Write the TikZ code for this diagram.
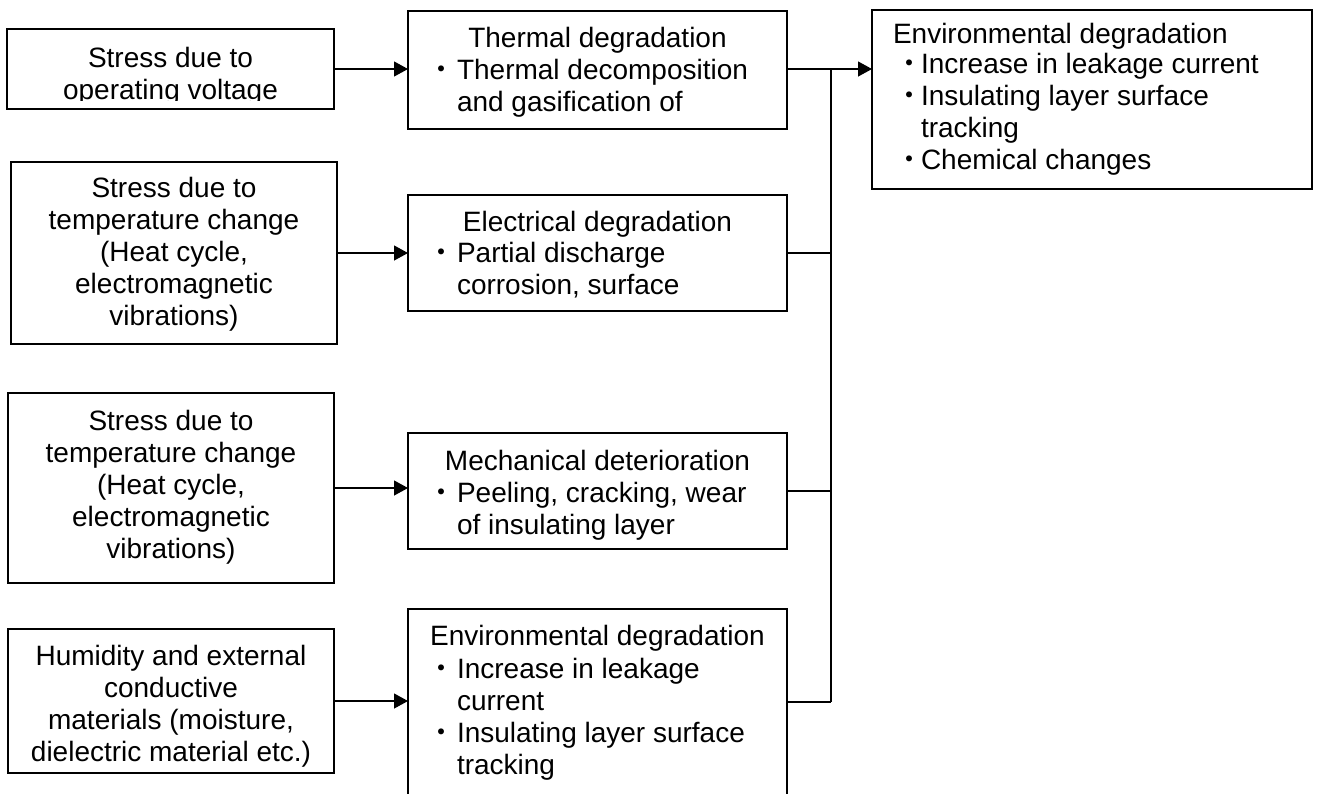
\documentclass[tikz,border=0pt]{standalone}
\usepackage{fontspec}
\setmainfont{Liberation Sans}
\newfontfamily\cjkfont{Noto Sans CJK JP}
\usetikzlibrary{arrows.meta,calc}
% bullet hung to the left of a line, its dot centred #1/2 before the text
\newcommand\hangdot[1]{\llap{\smash{\makebox[#1][c]{\cjkfont ・}}}}
\tikzset{
  box/.style={draw, line width=1.2pt, rectangle, inner sep=0pt, outer sep=0pt, anchor=north west},
  lbl/.style={inner sep=0pt, outer sep=0pt, font=\fontsize{28}{32}\selectfont},
  ctr/.style={lbl, align=center, anchor=north},
  lft/.style={lbl, align=left, anchor=north west},
  arr/.style={line width=1.2pt, -{Triangle[length=14pt,width=15pt]}},
  link/.style={line width=1.2pt},
}
\begin{document}
\begin{tikzpicture}[x=1pt,y=-1pt]
\useasboundingbox (0,0) rectangle (1317,793);

% causes (left column)
\node[box, minimum width=327pt, minimum height=80pt]  (a1) at (7,29) {};
\node[box, minimum width=326pt, minimum height=182pt] (a2) at (11,162) {};
\node[box, minimum width=326pt, minimum height=190pt] (a3) at (8,393) {};
\node[box, minimum width=326pt, minimum height=144pt] (a4) at (8,629) {};

\begin{scope}
  \clip (7,29) rectangle (334,100);
  \node[ctr] (ta1) at (170.5,44.6) {\strut Stress due to\\operating voltage};
\end{scope}
\node[ctr] (ta2) at (174,174.6) {\strut Stress due to\\temperature change\\(Heat cycle,\\electromagnetic\\vibrations)};
\node[ctr] (ta3) at (171,407.6) {\strut Stress due to\\temperature change\\(Heat cycle,\\electromagnetic\\vibrations)};
\node[ctr] (ta4) at (171,642.6) {\strut Humidity and external\\conductive\\materials (moisture,\\dielectric material etc.)};

% degradation modes (middle column)
\node[box, minimum width=379pt, minimum height=118pt] (b1) at (408,11) {};
\node[box, minimum width=379pt, minimum height=116pt] (b2) at (408,195) {};
\node[box, minimum width=379pt, minimum height=116pt] (b3) at (408,433) {};
\node[box, minimum width=379pt, minimum height=186pt] (b4) at (408,609) {};

\node[ctr] (hb1) at (597.5,24.6) {\strut Thermal degradation};
\node[lft] (tb1) at (457,56.6) {\strut\hangdot{32pt}Thermal decomposition\\and gasification of};
\node[ctr] (hb2) at (597.5,208.6) {\strut Electrical degradation};
\node[lft] (tb2) at (457,239.6) {\strut\hangdot{32pt}Partial discharge\\corrosion, surface};
\node[ctr] (hb3) at (597.5,447.6) {\strut Mechanical deterioration};
\node[lft] (tb3) at (457,479.6) {\strut\hangdot{32pt}Peeling, cracking, wear\\of insulating layer};
\node[ctr] (hb4) at (597.5,622.6) {\strut Environmental degradation};
\node[lft] (tb4) at (457,655.6) {\strut\hangdot{32pt}Increase in leakage\\current\\\hangdot{32pt}Insulating layer surface\\tracking};

% result (right)
\node[box, minimum width=440pt, minimum height=179pt] (c) at (872,10) {};
\node[lft] (hc) at (893,20.6) {\strut Environmental degradation};
\node[lft] (tc) at (921,50.6) {\strut\hangdot{23pt}Increase in leakage current\\\hangdot{23pt}Insulating layer surface\\tracking\\\hangdot{23pt}Chemical changes};

% cause -> mode arrows
\draw[arr] (a1.east) -- (a1.east -| b1.west);
\draw[arr] (a2.east) -- (a2.east -| b2.west);
\draw[arr] (a3.east) -- (a3.east -| b3.west);
\draw[arr] (a4.east) -- (a4.east -| b4.west);

% collecting trunk into the result box
\coordinate (jt) at (831,69);
\coordinate (jb) at (jt |- b4.east);
\draw[link] (jt -| b1.east) -- (jt);
\draw[arr] (jt) -- (jt -| c.west);
\draw[link] (jt) -- (jb);
\draw[link] (b2.east) -- (b2.east -| jt);
\draw[link] (b3.east) -- (b3.east -| jt);
\draw[link] (b4.east) -- (jb);
\end{tikzpicture}
\end{document}
